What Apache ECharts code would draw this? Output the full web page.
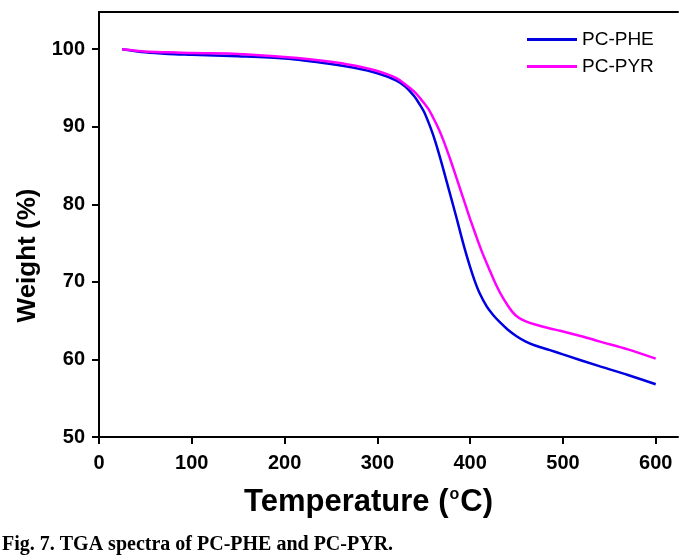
<!DOCTYPE html>
<html>
<head>
<meta charset="utf-8">
<script src="https://cdn.jsdelivr.net/npm/echarts@6/dist/echarts.min.js"></script>
<style>html,body{margin:0;padding:0;background:#fff;}#c{width:699px;height:560px;}</style>
</head>
<body>
<div id="c"></div>
<script>
const seriesNames = ['PC-PHE', 'PC-PYR'];
const phe = [[25,100],[50,99.6],[75,99.4],[100,99.3],[150,99.1],[200,98.8],[250,98.1],[275,97.6],[300,96.9],[320,96.0],[330,95.2],[340,93.9],[345,93.0],[350,92.0],[355,90.6],[360,89.0],[365,87.1],[370,85.0],[375,82.8],[380,80.6],[385,78.4],[390,76.1],[395,73.9],[400,71.9],[405,70.1],[410,68.6],[418,66.8],[425,65.7],[432,64.8],[440,63.9],[450,63.0],[460,62.3],[470,61.8],[486,61.2],[500,60.65],[540,59.1],[570,58.0],[600,56.8]];
const pyr = [[25,100],[50,99.7],[75,99.6],[100,99.5],[150,99.4],[200,99.0],[250,98.4],[275,97.9],[300,97.2],[320,96.3],[332,95.3],[340,94.5],[346,93.7],[350,93.1],[355,92.3],[360,91.2],[365,90.0],[370,88.6],[375,87.0],[380,85.3],[385,83.5],[390,81.7],[395,79.9],[400,78.1],[405,76.4],[412,74.1],[420,71.8],[428,69.6],[436,67.8],[445,66.2],[452,65.4],[460,64.9],[470,64.5],[486,64.0],[497,63.7],[520,63.0],[540,62.3],[570,61.3],[600,60.1]];
const xTicks = [0,100,200,300,400,500,600];
const yTicks = [50,60,70,80,90,100];
const caption = 'Fig. 7. TGA spectra of PC-PHE and PC-PYR.';

const chart = echarts.init(document.getElementById('c'), null, {renderer:'canvas'});
const axisFont = {fontFamily:'Liberation Sans, Arial', fontWeight:'bold', fontSize:20, color:'#000'};
const lineStyleAxis = {color:'#000', width:2};
chart.setOption({
  animation:false,
  backgroundColor:'#fff',
  grid:{left:99, right:21, top:12, bottom:123},
  title:{text:caption, left:2, top:535, padding:0, textStyle:{fontFamily:'Liberation Serif, Times New Roman', fontWeight:'bold', fontSize:20, color:'#000'}},
  legend:{
    data:seriesNames, orient:'vertical', left:527, top:30, itemWidth:50, itemHeight:3, itemGap:8, padding:0,
    icon:'rect', textStyle:{fontFamily:'Liberation Sans, Arial', fontSize:19, color:'#000'}
  },
  xAxis:[{
    type:'value', min:0, max:624, interval:100,
    axisLine:{show:true, lineStyle:lineStyleAxis},
    axisTick:{show:true, length:7, inside:false, lineStyle:lineStyleAxis, customValues:xTicks},
    axisLabel:{...axisFont, margin:16, customValues:xTicks},
    splitLine:{show:false},
    name:'{a|Temperature (}{s|o}{a|C)}', nameLocation:'middle', nameGap:50,
    nameTextStyle:{padding:[0,40,0,0], rich:{a:{fontFamily:'Liberation Sans, Arial', fontWeight:'bold', fontSize:31, color:'#000'}, s:{fontFamily:'Liberation Sans, Arial', fontWeight:'bold', fontSize:16, color:'#000', verticalAlign:'top', padding:[0,1,15,1]}}}
  },{
    type:'value', position:'top', min:0, max:624,
    axisLine:{show:true, lineStyle:lineStyleAxis}, axisTick:{show:false}, axisLabel:{show:false}, splitLine:{show:false}
  }],
  yAxis:[{
    type:'value', min:50, max:104.8, interval:10,
    axisLine:{show:true, lineStyle:lineStyleAxis},
    axisTick:{show:true, length:7, lineStyle:lineStyleAxis, customValues:yTicks},
    axisLabel:{...axisFont, margin:14, customValues:yTicks},
    splitLine:{show:false},
    name:'Weight (%)', nameLocation:'middle', nameGap:57,
    nameTextStyle:{fontFamily:'Liberation Sans, Arial', fontWeight:'bold', fontSize:26, color:'#000', padding:[0,62,0,0]}
  },{
    type:'value', position:'right', min:50, max:104.8,
    axisLine:{show:true, lineStyle:lineStyleAxis}, axisTick:{show:false}, axisLabel:{show:false}, splitLine:{show:false}
  }],
  series:[
    {name:seriesNames[0], type:'line', data:phe, smooth:0.3, showSymbol:false, color:'#0000e0', lineStyle:{width:2.5, color:'#0000e0'}},
    {name:seriesNames[1], type:'line', data:pyr, smooth:0.3, showSymbol:false, color:'#ff00ff', lineStyle:{width:2.5, color:'#ff00ff'}}
  ]
});
</script>
</body>
</html>
